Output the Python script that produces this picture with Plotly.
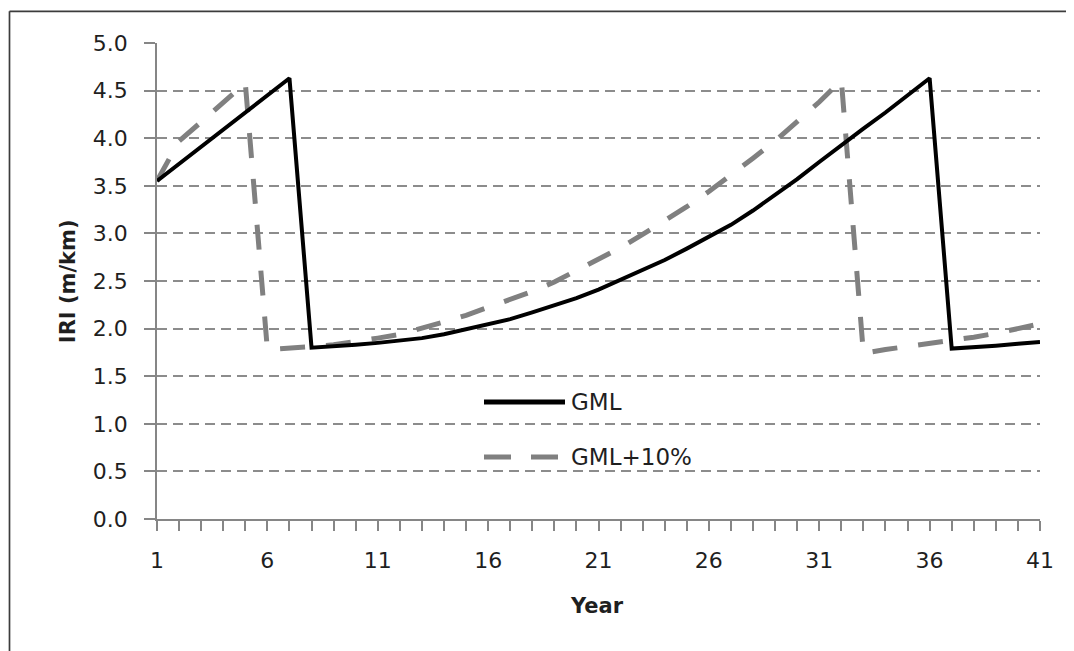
import plotly.graph_objects as go

years = list(range(1, 42))

gml = [3.55, 3.73, 3.91, 4.09, 4.27, 4.45, 4.63,
       1.80, 1.81, 1.83, 1.85, 1.87, 1.90, 1.94, 1.99, 2.04, 2.10, 2.17, 2.24, 2.32,
       2.41, 2.51, 2.61, 2.72, 2.84, 2.96, 3.09, 3.24, 3.40, 3.57, 3.75, 3.93, 4.10,
       4.27, 4.45, 4.63,
       1.79, 1.80, 1.82, 1.84, 1.86]

gml10 = [3.55, 3.97, 4.17, 4.37, 4.58,
         1.78, 1.79, 1.81, 1.83, 1.86, 1.90, 1.94, 2.00, 2.07, 2.14, 2.22, 2.30, 2.39,
         2.49, 2.61, 2.73, 2.85, 2.99, 3.13, 3.28, 3.44, 3.61, 3.79, 3.97, 4.17, 4.38,
         4.61,
         1.74, 1.78, 1.81, 1.84, 1.87, 1.91, 1.95, 2.00, 2.05]

series_names = ["GML", "GML+10%"]
x_tick_vals = [1, 6, 11, 16, 21, 26, 31, 36, 41]
y_tick_vals = [0.0, 0.5, 1.0, 1.5, 2.0, 2.5, 3.0, 3.5, 4.0, 4.5, 5.0]

FONT = "DejaVu Sans"
TXT = "#1f1f1f"
AX = "#868686"
GRAY = "#808080"
FS = 22

# page offset of the figure inside the html body (default body margin)
OFF = 8
PL, PR, PT, PB = 157, 1040, 42.7, 519  # plot area in page pixels

fig = go.Figure()
fig.add_trace(go.Scatter(x=years, y=gml10, mode="lines", name=series_names[1],
                         line=dict(color=GRAY, width=5, dash="25px,21px"),
                         showlegend=False))
fig.add_trace(go.Scatter(x=years, y=gml, mode="lines", name=series_names[0],
                         line=dict(color="#000000", width=4),
                         showlegend=False))

fig.update_layout(
    width=1074, height=651,
    margin=dict(l=PL - OFF, r=1074 - (PR - OFF), t=PT - OFF, b=651 - (PB - OFF)),
    paper_bgcolor="white", plot_bgcolor="white",
    font=dict(family=FONT, size=FS, color=TXT),
    showlegend=False,
)

fig.update_xaxes(
    range=[1, 41], tickvals=x_tick_vals, ticktext=[str(v) for v in x_tick_vals],
    showgrid=False, zeroline=False,
    showline=True, linecolor=AX, linewidth=1.5,
    ticks="outside", ticklen=10, tickcolor=AX, tickwidth=1.5,
    minor=dict(dtick=1, tick0=1, ticks="outside", ticklen=10, tickcolor=AX, tickwidth=1.5, showgrid=False),
    tickfont=dict(family=FONT, size=FS, color=TXT),
    ticklabelstandoff=11,
)
fig.update_yaxes(
    range=[0, 5], tickvals=y_tick_vals, tickformat=".1f",
    showgrid=True, gridcolor="#8c8c8c", gridwidth=1.5, griddash="10px,6px",
    zeroline=False,
    showline=True, linecolor=AX, linewidth=1.5,
    ticks="outside", ticklen=11, tickcolor=AX, tickwidth=1.5,
    tickfont=dict(family=FONT, size=FS, color=TXT),
    ticklabelstandoff=12,
)

W = PR - PL
H = PB - PT

def px_x(p):
    return (p - PL) / W

def px_y(p):
    return (PB - p) / H

# Axis titles
fig.add_annotation(text="<b>Year</b>", xref="paper", yref="paper",
                   x=px_x(597), y=px_y(606), xanchor="center", yanchor="middle",
                   showarrow=False, font=dict(family=FONT, size=21, color=TXT))
fig.add_annotation(text="<b>IRI (m/km)</b>", xref="paper", yref="paper",
                   x=px_x(68), y=px_y(281), xanchor="center", yanchor="middle",
                   textangle=-90, showarrow=False, font=dict(family=FONT, size=21, color=TXT))

# Custom legend
fig.add_shape(type="line", xref="paper", yref="paper",
              x0=px_x(484), x1=px_x(565), y0=px_y(402), y1=px_y(402),
              line=dict(color="#000000", width=5))
fig.add_shape(type="line", xref="paper", yref="paper",
              x0=px_x(484), x1=px_x(558), y0=px_y(457), y1=px_y(457),
              line=dict(color=GRAY, width=5, dash="27px,20px"))
fig.add_annotation(text=series_names[0], xref="paper", yref="paper",
                   x=px_x(569), y=px_y(402), xanchor="left", yanchor="middle",
                   showarrow=False, font=dict(family=FONT, size=23, color=TXT))
fig.add_annotation(text=series_names[1], xref="paper", yref="paper",
                   x=px_x(569), y=px_y(457), xanchor="left", yanchor="middle",
                   showarrow=False, font=dict(family=FONT, size=23, color=TXT))

# Chart border (left and top edges visible)
fig.add_shape(type="line", xref="paper", yref="paper",
              x0=px_x(9.5), x1=px_x(9.5), y0=px_y(700), y1=px_y(11),
              line=dict(color="#3c3c3c", width=1.7))
fig.add_shape(type="line", xref="paper", yref="paper",
              x0=px_x(9.5), x1=px_x(1100), y0=px_y(11), y1=px_y(11),
              line=dict(color="#3c3c3c", width=1.7))

fig.write_html("out.html")
